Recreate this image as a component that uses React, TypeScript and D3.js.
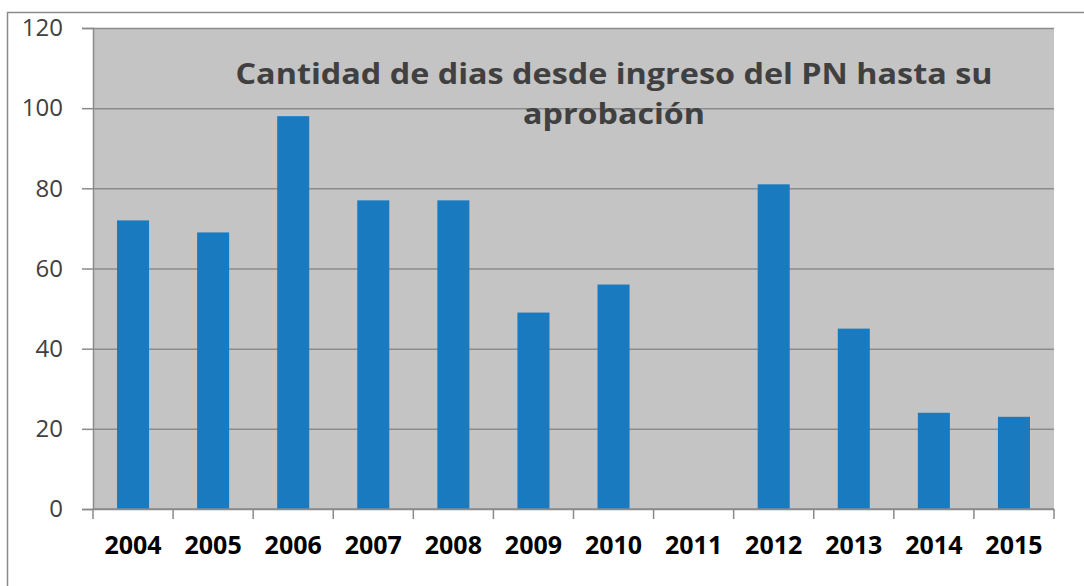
import React, { useEffect, useRef } from "react";
import * as d3 from "d3";

const years = ["2004", "2005", "2006", "2007", "2008", "2009", "2010", "2011", "2012", "2013", "2014", "2015"];
const dias = [72, 69, 98, 77, 77, 49, 56, 0, 81, 45, 24, 23];
const yTicks = [0, 20, 40, 60, 80, 100, 120];
const titleLines = ["Cantidad de dias desde ingreso del PN hasta su", "aprobación"];

export default function App() {
  const chartRef = useRef<SVGSVGElement>(null);
  const width = 1084;
  const height = 586;

  useEffect(() => {
    const svg = d3.select(chartRef.current);
    const margin = { top: 28, right: 30, bottom: 77, left: 93 };

    const x = d3
      .scaleBand()
      .domain(years)
      .range([margin.left, width - margin.right])
      .paddingInner(0.6)
      .paddingOuter(0.3);

    const y = d3
      .scaleLinear()
      .domain([0, 120])
      .range([height - margin.bottom, margin.top]);

    // outer chart frame
    svg
      .append("path")
      .attr("d", `M7.5,${height} V12.5 H${width}`)
      .attr("fill", "none")
      .attr("stroke", "#8a8a8a")
      .attr("stroke-width", 1.5);

    // plot area
    svg
      .append("rect")
      .attr("x", margin.left)
      .attr("y", margin.top)
      .attr("width", width - margin.left - margin.right)
      .attr("height", height - margin.top - margin.bottom)
      .attr("fill", "#c4c4c4");

    const yAxis = (g: any) =>
      g
        .attr("transform", `translate(${margin.left},0)`)
        .call(d3.axisLeft(y).tickValues(yTicks).tickSize(11).tickPadding(19))
        .call((g: any) => g.select(".domain").attr("stroke", "#8a8a8a").attr("stroke-width", 1.5))
        .call((g: any) => g.selectAll(".tick line").attr("stroke", "#8a8a8a").attr("stroke-width", 1.5))
        .call((g: any) =>
          g
            .selectAll(".tick")
            .append("line")
            .attr("x2", width - margin.left - margin.right)
            .attr("stroke", "#8c8c8c")
            .attr("stroke-width", 1.5)
        )
        .call((g: any) =>
          g
            .selectAll(".tick text")
            .attr("fill", "#404040")
            .style("font-family", "'Open Sans', sans-serif")
            .style("font-size", "24px")
        );

    svg.append("g").call(yAxis);

    svg
      .append("g")
      .selectAll("rect")
      .data(years.map((yr, i) => ({ yr, v: dias[i] })))
      .join("rect")
      .attr("x", d => x(d.yr)!)
      .attr("width", x.bandwidth())
      .attr("y", d => y(d.v))
      .attr("height", d => y(0) - y(d.v))
      .attr("fill", "#1a7abf");

    // x axis with ticks at category boundaries
    const step = x.step();
    const x0 = margin.left;
    const xg = svg.append("g").attr("transform", `translate(0,${y(0)})`);
    xg.append("line")
      .attr("x1", x0)
      .attr("x2", width - margin.right)
      .attr("stroke", "#8a8a8a")
      .attr("stroke-width", 1.5);
    xg.selectAll("line.tk")
      .data(d3.range(years.length + 1))
      .join("line")
      .attr("class", "tk")
      .attr("x1", i => x0 + i * step)
      .attr("x2", i => x0 + i * step)
      .attr("y2", 10)
      .attr("stroke", "#8a8a8a")
      .attr("stroke-width", 1.5);
    xg.selectAll("text")
      .data(years)
      .join("text")
      .attr("x", d => x(d)! + x.bandwidth() / 2)
      .attr("y", 45)
      .attr("text-anchor", "middle")
      .attr("fill", "#000")
      .style("font-family", "'Open Sans', sans-serif")
      .style("font-weight", "bold")
      .style("font-size", "25px")
      .text(d => d);

    svg
      .append("g")
      .selectAll("text")
      .data(titleLines)
      .join("text")
      .attr("x", 614)
      .attr("y", (d, i) => 84 + i * 40)
      .attr("text-anchor", "middle")
      .attr("fill", "#404040")
      .attr("textLength", (d, i) => (i === 0 ? 757 : 182))
      .attr("lengthAdjust", "spacingAndGlyphs")
      .style("font-family", "'Open Sans', sans-serif")
      .style("font-weight", "bold")
      .style("font-size", "28px")
      .text(d => d);

    return () => {
      svg.html("");
    };
  }, []);

  return (
    <svg
      ref={chartRef}
      width={width}
      height={height}
      style={{ position: "absolute", left: 0, top: 0, background: "#fff" }}
    />
  );
}
